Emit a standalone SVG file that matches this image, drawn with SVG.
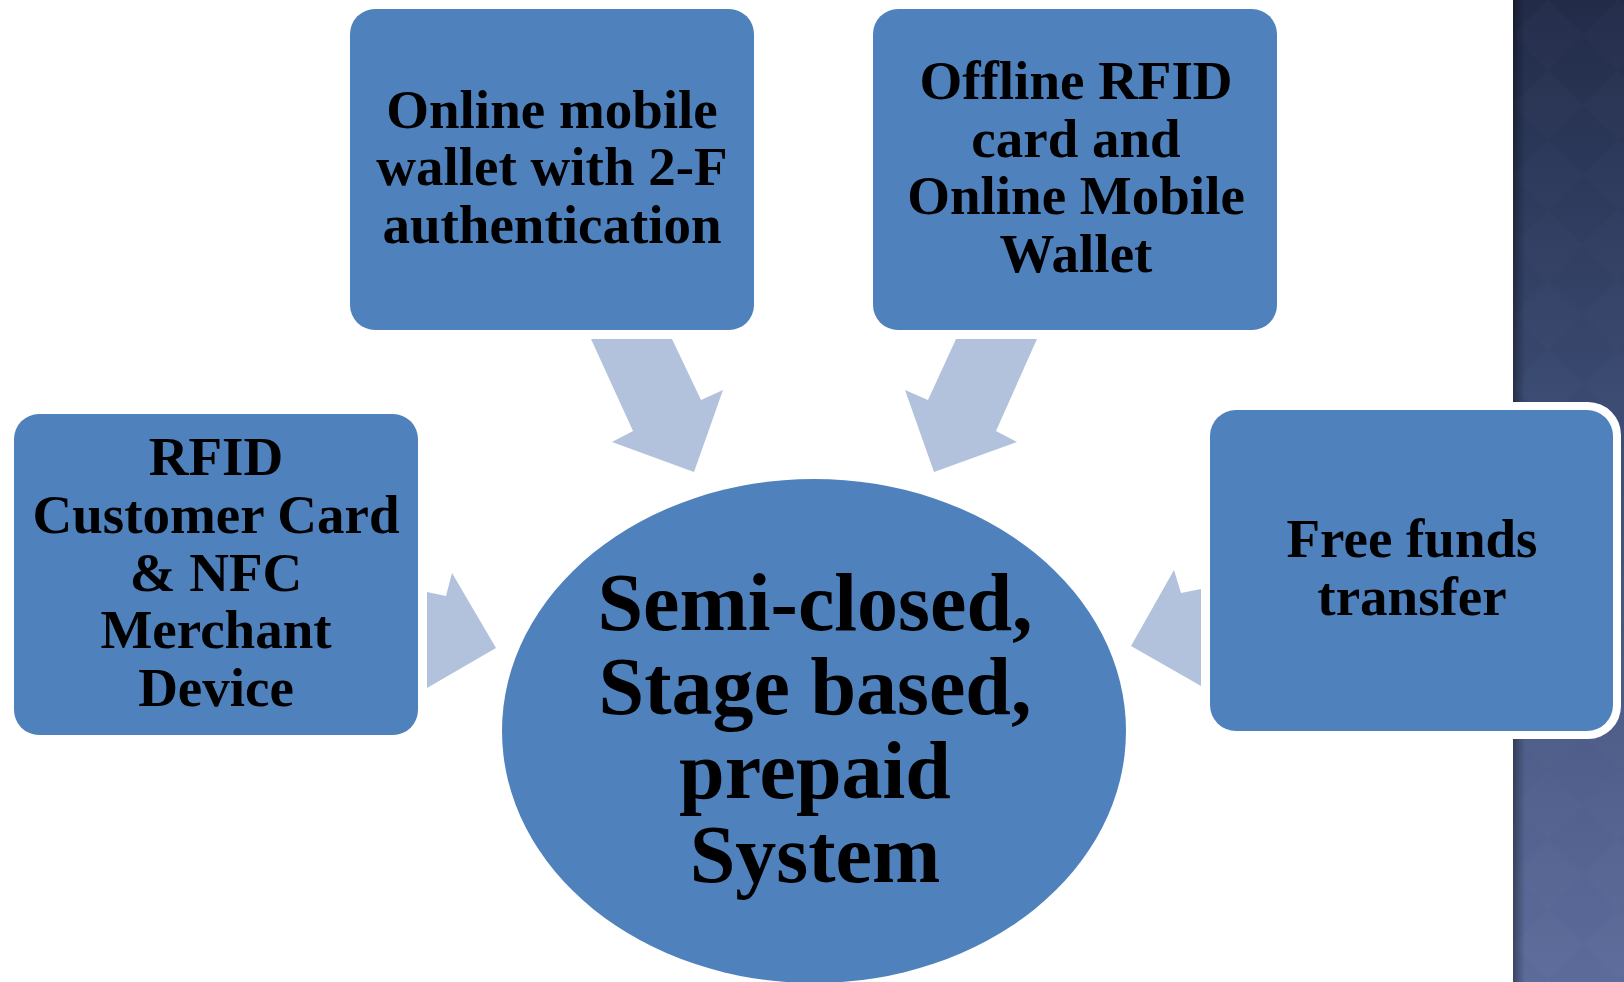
<svg xmlns="http://www.w3.org/2000/svg" width="1624" height="982" viewBox="0 0 1624 982">
  <defs>
    <linearGradient id="strip" x1="0" y1="0" x2="0" y2="1">
      <stop offset="0" stop-color="#222c49"/>
      <stop offset="0.4" stop-color="#3a4970"/>
      <stop offset="1" stop-color="#5c6b9a"/>
    </linearGradient>
    <linearGradient id="shade" x1="0" y1="0" x2="1" y2="0">
      <stop offset="0" stop-color="#000" stop-opacity="0.35"/>
      <stop offset="1" stop-color="#000" stop-opacity="0"/>
    </linearGradient>
    <pattern id="diam" x="1513" y="0" width="70" height="70" patternUnits="userSpaceOnUse">
      <path d="M35 0 L70 35 L35 70 L0 35 Z" fill="#ffffff" fill-opacity="0.012"/>
    </pattern>
  </defs>
  <style>
    .box { fill: #4f81bd; }
    .arrow { fill: #b2c2dd; }
    .t { font-family: "Liberation Serif", "Times New Roman", serif; font-weight: bold; fill: #000; text-anchor: middle; }
    .s { font-size: 55px; }
    .b { font-size: 82px; }
  </style>
  <rect width="1624" height="982" fill="#ffffff"/>
  <g id="background-strip">
    <rect x="1513" y="0" width="111" height="982" fill="url(#strip)"/>
    <rect x="1513" y="0" width="111" height="982" fill="url(#diam)"/>
    <rect x="1513" y="0" width="12" height="982" fill="url(#shade)"/>
  </g>
  <g id="connectors">
    <polygon class="arrow" points="591,339 672,339 701,400 723,390 694,472 612,442 633,431"/>
    <polygon class="arrow" points="1037,339 956,339 928,400 905,390 934,472 1017,442 996,431"/>
    <polygon class="arrow" points="427,592 446,596 452,573 496,648 427,688"/>
    <polygon class="arrow" points="1201,589 1181,593 1174,570 1131,646 1201,686"/>
  </g>
  <g id="node-center">
    <ellipse class="box" cx="814" cy="731" rx="312" ry="252"/>
    <text class="t b" x="815" y="630">Semi-closed,</text>
    <text class="t b" x="815" y="714">Stage based,</text>
    <text class="t b" x="815" y="798">prepaid</text>
    <text class="t b" x="815" y="882">System</text>
  </g>
  <g id="node-online-wallet">
    <rect class="box" x="350" y="9" width="404" height="321" rx="25"/>
    <text class="t s" x="552" y="128">Online mobile</text>
    <text class="t s" x="552" y="185">wallet with 2-F</text>
    <text class="t s" x="552" y="243">authentication</text>
  </g>
  <g id="node-offline-rfid">
    <rect class="box" x="873" y="9" width="404" height="321" rx="25"/>
    <text class="t s" x="1076" y="99">Offline RFID</text>
    <text class="t s" x="1076" y="157">card and</text>
    <text class="t s" x="1076" y="214">Online Mobile</text>
    <text class="t s" x="1076" y="272">Wallet</text>
  </g>
  <g id="node-rfid-nfc">
    <rect class="box" x="14" y="414" width="404" height="321" rx="25"/>
    <text class="t s" x="216" y="475">RFID</text>
    <text class="t s" x="216" y="533">Customer Card</text>
    <text class="t s" x="216" y="591">&amp; NFC</text>
    <text class="t s" x="216" y="648">Merchant</text>
    <text class="t s" x="216" y="706">Device</text>
  </g>
  <g id="node-free-funds">
    <rect x="1202" y="402" width="419" height="337" rx="33" fill="#ffffff"/>
    <rect class="box" x="1210" y="410" width="403" height="321" rx="26"/>
    <text class="t s" x="1412" y="557">Free funds</text>
    <text class="t s" x="1412" y="615">transfer</text>
  </g>
</svg>
